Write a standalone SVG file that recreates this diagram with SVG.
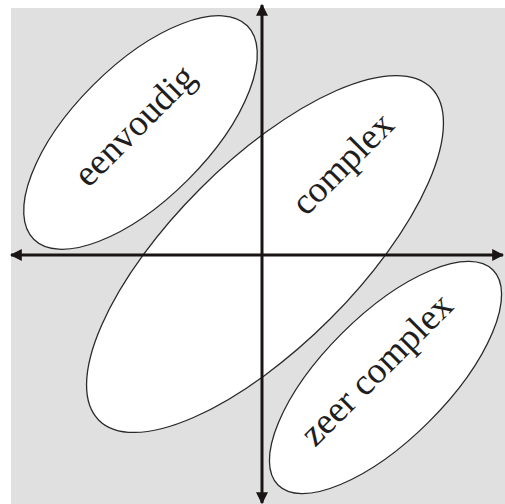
<svg xmlns="http://www.w3.org/2000/svg" width="505" height="504" viewBox="0 0 505 504">
<style>
.fill{fill:#ffffff;stroke:none}
.outline{fill:none;stroke:#2a2a2a;stroke-width:1.3}
.axis{stroke:#1a1414;stroke-width:3;fill:none}
.lbl{font-family:"Liberation Serif","Times New Roman",serif;font-size:37px;fill:#1e1e1e;text-anchor:middle}
</style>
<defs>
<marker id="arr" viewBox="0 0 10 10" refX="9" refY="5" markerWidth="4" markerHeight="4" orient="auto" markerUnits="strokeWidth">
<path d="M0,0 L10,5 L0,10 Z" fill="#1a1414"/>
</marker>
</defs>
<rect x="11" y="8" width="494" height="496" fill="#e0e0e0"/>
<g id="fills">
<ellipse class="fill" cx="140.5" cy="132.5" rx="151" ry="67" transform="rotate(-45 140.5 132.5)"/>
<ellipse class="fill" cx="265" cy="254" rx="235" ry="92" transform="rotate(-45 265 254)"/>
<ellipse class="fill" cx="385.5" cy="377.5" rx="152" ry="62" transform="rotate(-45 385.5 377.5)"/>
</g>
<g id="eenvoudig">
<ellipse class="outline" cx="140.5" cy="132.5" rx="151" ry="67" transform="rotate(-45 140.5 132.5)"/>
<text class="lbl" transform="translate(143 134) rotate(-45)">eenvoudig</text>
</g>
<g id="complex">
<ellipse class="outline" cx="265" cy="254" rx="235" ry="92" transform="rotate(-45 265 254)"/>
<text class="lbl" transform="translate(351 172) rotate(-45)">complex</text>
</g>
<g id="zeer-complex">
<ellipse class="outline" cx="385.5" cy="377.5" rx="152" ry="62" transform="rotate(-45 385.5 377.5)"/>
<text class="lbl" transform="translate(385 378) rotate(-45)">zeer complex</text>
</g>
<g id="connectors">
<line class="axis" x1="262" y1="254" x2="262" y2="5" marker-end="url(#arr)"/>
<line class="axis" x1="262" y1="254" x2="262" y2="503" marker-end="url(#arr)"/>
<line class="axis" x1="262" y1="255" x2="11" y2="255" marker-end="url(#arr)"/>
<line class="axis" x1="262" y1="255" x2="503" y2="255" marker-end="url(#arr)"/>
</g>
</svg>
